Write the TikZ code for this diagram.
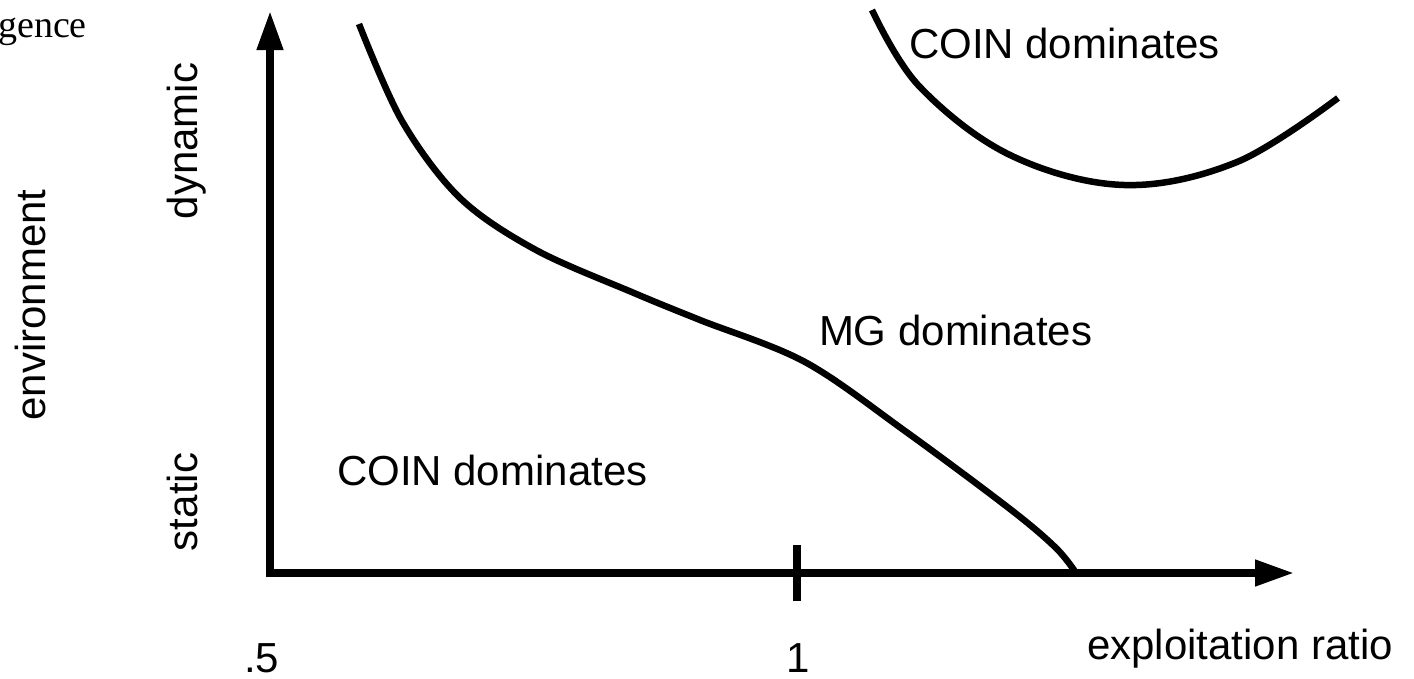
\documentclass[tikz,border=0pt]{standalone}
\usepackage{fontspec}
\setmainfont{Liberation Sans}
\newfontfamily\gencefont{Liberation Serif}
\usetikzlibrary{arrows.meta}
\tikzset{
  lbl/.style={inner sep=0pt, outer sep=0pt, font=\fontsize{42}{50}\selectfont},
  axisline/.style={line width=7.5pt, line join=miter},
  boundary/.style={line width=6.5pt},
  ticks/.style={line width=8pt},
}
\begin{document}
\begin{tikzpicture}[x=1pt,y=-1pt]
\useasboundingbox (0,0) rectangle (1414,678);
% axes
\coordinate (ytip) at (270,11);
\coordinate (origin) at (270,573);
\coordinate (xtip) at (1294,573);
\draw[axisline, {Triangle[length=39pt,width=25pt]}-{Triangle[length=39pt,width=25pt]}] (ytip) -- (origin) -- (xtip);
\coordinate (tickA) at (797,545);
\coordinate (tickB) at (797,601);
\draw[ticks] (tickA) -- (tickB);
% boundary curves
\draw[boundary] plot[smooth, tension=0.55] coordinates {(359,24) (402,121) (460,198) (536,250) (634,293) (700,320) (805,362) (905,431) (1010,509) (1056,548) (1076,573)};
\draw[boundary] plot[smooth, tension=0.6] coordinates {(872,10) (919,86) (1010,155) (1124,185) (1237,162) (1338,98)};
% labels
\node[inner sep=0pt, anchor=base west, font=\gencefont\fontsize{38}{44}\selectfont] (gence) at (-2,37) {gence};
\node[lbl, anchor=base, rotate=90] (env) at (45,305) {environment};
\node[lbl, anchor=base, rotate=90] (dyn) at (197,141) {dynamic};
\node[lbl, anchor=base, rotate=90] (stat) at (197,502) {static};
\node[lbl, anchor=base west] (coinTop) at (909,58) {COIN dominates};
\node[lbl, anchor=base west] (mg) at (819,345) {MG dominates};
\node[lbl, anchor=base west] (coinLow) at (337,485) {COIN dominates};
\node[lbl, anchor=base west] (half) at (244,672) {.5};
\node[lbl, anchor=base west] (one) at (786,672) {1};
\node[lbl, anchor=base west] (xlab) at (1087,659) {exploitation ratio};
\end{tikzpicture}
\end{document}
